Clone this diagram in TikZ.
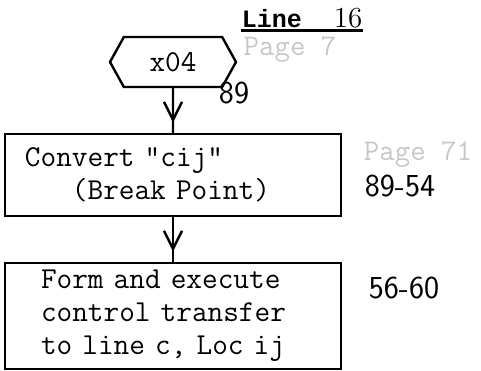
\documentclass[tikz,border=0pt]{standalone}
\usepackage{fontspec}
\newfontfamily\typebold{Liberation Mono}
\usepackage{tikz}
\usetikzlibrary{positioning}
\usetikzlibrary{shapes,arrows.meta,decorations.markings}
\tikzset{%
  block/.style    = {draw, rectangle, align=left,
    font=\fontsize{15.2}{16.5}\selectfont\ttfamily},
  hexa/.style     = {draw, signal, signal to=east and west, signal pointer angle=122,
    minimum width=63pt, minimum height=25pt, font=\fontsize{15.2}{16.5}\selectfont\ttfamily}, % Entry
  pageno/.style   = {font=\fontsize{16}{18}\selectfont\sffamily}, % Page refs
  ghost/.style    = {text=black!22, inner sep=0pt, font=\fontsize{15}{16}\selectfont\ttfamily}, % faint
  midarrow/.style = {postaction={decorate},
    decoration={markings, mark=at position 0.77 with {\arrow{>}}}}
}

\begin{document}
\begin{tikzpicture}[x=0.5pt, y=-0.5pt, line width=1.2pt, >={Straight Barb[length=9pt, width=9pt]}]
  \useasboundingbox (0,0) rectangle (481,370);

  \draw node at (173,62) [hexa] (hex) {x04};
  \draw node [block, node distance=56.5pt, below of=hex, text width=148pt, inner xsep=10pt, minimum height=41pt] (cvt) {Convert "cij"\\\hphantom{xxx}(Break Point)};
  \draw node [block, node distance=70.5pt, below of=cvt, text width=132pt, inner xsep=18pt, minimum height=53pt] (xfer) {Form and execute\\control transfer\\to line c, Loc ij};
  % \draw node at (290,46) [ghost] (pg7) {Page 7};

  \node[pageno] at (234,93) (n89) {89};
  \node[pageno] at (400,186) (n8954) {89-54};
  \node[pageno] at (404,288) (n5660) {56-60};
  \node[anchor=base, inner sep=0pt] at (302,27) (line)
    {{\fontsize{12.5}{14}\selectfont\typebold\bfseries Line}\hspace{16pt}{\fontsize{14.5}{16}\selectfont 16}};
  \node[ghost] at (290,50) (pg7) {Page 7};
  \node[ghost] at (418,155) (pg71) {Page 71};

  \draw ([yshift=-1.8pt]line.base west) -- ([yshift=-1.8pt]line.base east);
  \draw[midarrow] (hex) -- (cvt);
  \draw[midarrow] (cvt) -- (xfer);

\end{tikzpicture}
\end{document}
